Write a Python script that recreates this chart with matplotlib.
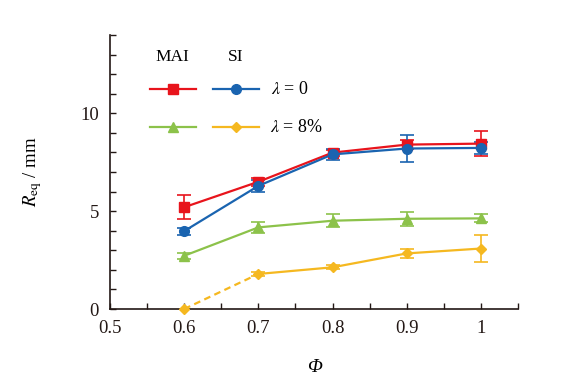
import matplotlib
matplotlib.use("Agg")
import matplotlib.pyplot as plt
from matplotlib.lines import Line2D
from matplotlib.ticker import MultipleLocator

plt.rcParams['font.family'] = ['Liberation Serif', 'DejaVu Serif']
plt.rcParams['mathtext.fontset'] = 'stix'

phi = [0.6, 0.7, 0.8, 0.9, 1.0]
mai_0 = [5.2, 6.5, 7.99, 8.4, 8.45]
mai_0_err = [0.6, 0.2, 0.15, 0.25, 0.65]
si_0 = [3.98, 6.29, 7.9, 8.2, 8.23]
si_0_err = [0.18, 0.3, 0.3, 0.68, 0.3]
mai_8 = [2.72, 4.17, 4.51, 4.61, 4.63]
mai_8_err = [0.15, 0.3, 0.32, 0.35, 0.2]
si_8 = [0.0, 1.79, 2.13, 2.84, 3.09]
si_8_err = [0.0, 0.1, 0.1, 0.25, 0.69]

c_red = '#E8141C'
c_blue = '#1A64B0'
c_green = '#8CC24A'
c_yellow = '#F5B820'

fig = plt.figure(figsize=(5.78, 3.89), dpi=100)
ax = fig.add_axes([110/578, 80/389, 408/578, 274/389])

ekw = dict(capsize=5, elinewidth=1.2, capthick=1.2, lw=1.6)
ax.errorbar(phi, mai_8, yerr=mai_8_err, color=c_green, marker='^', ms=7, **ekw)
ax.errorbar(phi[1:], si_8[1:], yerr=si_8_err[1:], color=c_yellow, marker='D', ms=5, **ekw)
ax.plot(phi[:2], si_8[:2], color=c_yellow, ls=(0, (3, 2)), lw=1.6)
ax.plot(phi[:1], si_8[:1], color=c_yellow, marker='D', ms=5, ls='none', clip_on=False, zorder=5)
ax.errorbar(phi, mai_0, yerr=mai_0_err, color=c_red, marker='s', ms=7, **ekw)
ax.errorbar(phi, si_0, yerr=si_0_err, color=c_blue, marker='o', ms=7, **ekw)

ax.set_xlim(0.5, 1.05)
ax.set_ylim(0, 14)
ax.xaxis.set_minor_locator(MultipleLocator(0.05))
ax.yaxis.set_major_locator(MultipleLocator(5))
ax.yaxis.set_minor_locator(MultipleLocator(1))
ax.set_xticks([0.5, 0.6, 0.7, 0.8, 0.9, 1.0])
ax.set_xticklabels(['0.5', '0.6', '0.7', '0.8', '0.9', '1'])
ax.tick_params(which='both', direction='in', length=4, width=1, labelsize=13.5, colors='#231815')
ax.tick_params(axis='x', which='both', pad=8)
ax.tick_params(axis='y', which='both', pad=8)
for s in ['top', 'right']:
    ax.spines[s].set_visible(False)
for s in ['left', 'bottom']:
    ax.spines[s].set_color('#231815')
    ax.spines[s].set_linewidth(1.2)

ax.set_xlabel('Φ', fontsize=14, fontstyle='italic', labelpad=16)
ax.set_ylabel(r'$R_{\mathrm{eq}}$ / mm', fontsize=13.5, labelpad=26)

# custom legend
def fx(px):
    return (px - 110) / 408
def fy(py):
    return (309 - py) / 274

tr = ax.transAxes
ax.text(fx(172), fy(57), 'MAI', transform=tr, ha='center', va='center', fontsize=12.5)
ax.text(fx(236), fy(57), 'SI', transform=tr, ha='center', va='center', fontsize=12.5)
for (x0, x1, xm, py, col, mk, ms) in [
    (150, 196, 173, 89, c_red, 's', 7),
    (213, 259, 236, 89, c_blue, 'o', 7),
    (150, 196, 173, 127, c_green, '^', 7),
    (213, 259, 236, 127, c_yellow, 'D', 5),
]:
    ax.add_line(Line2D([fx(x0), fx(x1)], [fy(py), fy(py)], color=col, lw=1.6, transform=tr, clip_on=False))
    ax.add_line(Line2D([fx(xm)], [fy(py)], color=col, marker=mk, ms=ms, ls='none', transform=tr, clip_on=False))
ax.text(fx(271), fy(89), r'$\lambda$ = 0', transform=tr, ha='left', va='center', fontsize=13)
ax.text(fx(270), fy(127), r'$\lambda$ = 8%', transform=tr, ha='left', va='center', fontsize=13)

fig.savefig('out.png', dpi=100)
